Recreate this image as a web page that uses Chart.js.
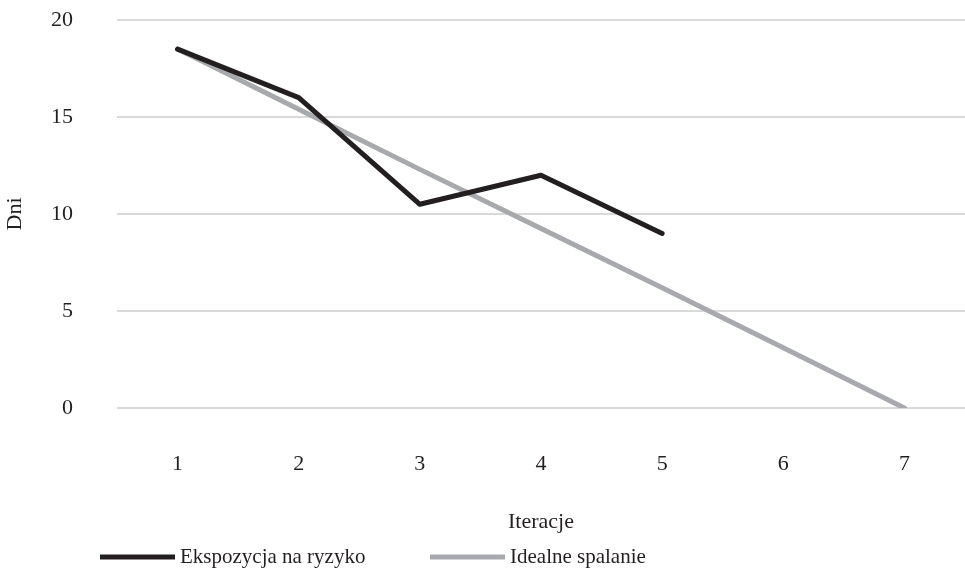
<!DOCTYPE html>
<html>
<head>
<meta charset="utf-8">
<script src="https://cdn.jsdelivr.net/npm/chart.js@4/dist/chart.umd.min.js"></script>
<style>
  html, body { margin: 0; padding: 0; background: #fff; }
  #wrap { width: 965px; height: 572px; position: relative; }
</style>
</head>
<body>
<div id="wrap"><canvas id="myChart"></canvas></div>
<script>
// labels along the x-axis
var Iterations = ["1","2","3","4","5","6","7"];
// the two lines
var Exposure = [18.5, 16, 10.5, 12, 9, null, null];
var Ideal = [18.5, 15.4, 12.3, 9.25, 6.2, 3.1, 0];
var YTicks = [0, 5, 10, 15, 20];

var serif = "'Liberation Serif', 'Times New Roman', serif";

// legend drawn as long line samples under the chart
var lineLegend = {
  id: 'lineLegend',
  afterDraw: function(chart) {
    var ctx = chart.ctx;
    var spots = [100, 430];
    ctx.save();
    chart.data.datasets.forEach(function(ds, i) {
      var x = spots[i], y = 557;
      ctx.strokeStyle = ds.borderColor;
      ctx.lineWidth = 5;
      ctx.lineCap = 'butt';
      ctx.beginPath();
      ctx.moveTo(x, y);
      ctx.lineTo(x + 75, y);
      ctx.stroke();
      ctx.fillStyle = '#231f20';
      ctx.font = "21px " + serif;
      ctx.textBaseline = 'middle';
      ctx.fillText(ds.label, x + 80, y);
    });
    ctx.restore();
  }
};

var ctx = document.getElementById("myChart");
var myChart = new Chart(ctx, {
  type: 'line',
  data: {
    labels: Iterations,
    datasets: [
      {
        data: Exposure,
        label: "Ekspozycja na ryzyko",
        borderColor: "#231f20",
        borderWidth: 5,
        pointRadius: 0,
        borderCapStyle: 'round',
        borderJoinStyle: 'round',
        fill: false
      },
      {
        data: Ideal,
        label: "Idealne spalanie",
        borderColor: "#a7a9ac",
        borderWidth: 5,
        pointRadius: 0,
        borderCapStyle: 'round',
        borderJoinStyle: 'round',
        fill: false
      }
    ]
  },
  options: {
    responsive: true,
    maintainAspectRatio: false,
    animation: false,
    layout: { padding: { top: 20, left: 2, right: -6, bottom: 37 } },
    plugins: {
      legend: { display: false },
      tooltip: { enabled: false }
    },
    scales: {
      x: {
        offset: true,
        grid: { display: false },
        border: { display: false },
        ticks: { color: '#231f20', font: { family: serif, size: 22 }, padding: 35 },
        title: { display: true, text: 'Iteracje', color: '#231f20',
                 font: { family: serif, size: 22 }, padding: { top: 0, bottom: 0 } },
        afterFit: function(axis) { axis.height = 127; }
      },
      y: {
        min: 0,
        max: 20,
        afterBuildTicks: function(axis) {
          axis.ticks = YTicks.map(function(v) { return { value: v }; });
        },
        grid: { color: '#d9d9d9', lineWidth: 2, drawTicks: false },
        border: { display: false },
        ticks: { color: '#231f20', font: { family: serif, size: 22 }, padding: 44 },
        title: { display: true, text: 'Dni', color: '#231f20',
                 font: { family: serif, size: 22 }, padding: { top: 0, bottom: 0 } },
        afterFit: function(axis) {
          axis.width = 115;
          axis.paddingTop = 0;
          axis.paddingBottom = 0;
        }
      }
    }
  },
  plugins: [lineLegend]
});
</script>
</body>
</html>
